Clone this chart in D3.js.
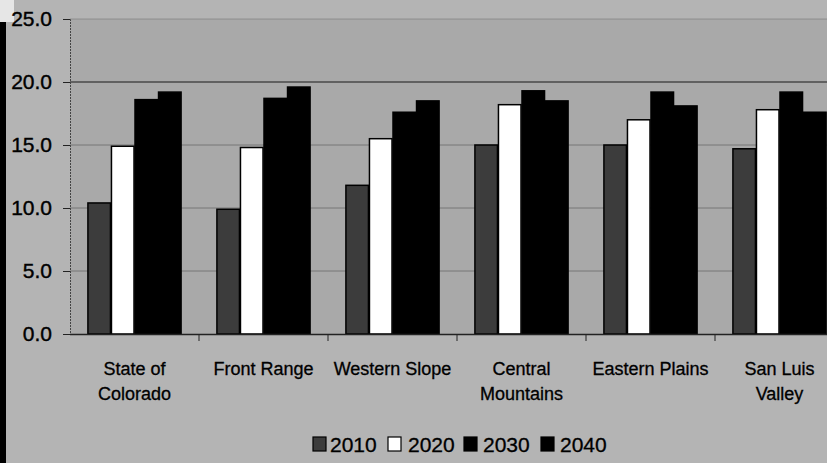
<!DOCTYPE html>
<html><head><meta charset="utf-8">
<script src="https://cdn.jsdelivr.net/npm/d3@7"></script>
<style>
html,body{margin:0;padding:0;background:#b2b2b2;}
svg{display:block;}
text{font-family:"Liberation Sans",Arial,sans-serif;fill:#000;}
</style></head>
<body>
<svg id="chart" width="827" height="463"></svg>
<script>
const categories = [["State of","Colorado"],["Front Range"],["Western Slope"],["Central","Mountains"],["Eastern Plains"],["San Luis","Valley"]];
const years = ["2010","2020","2030","2040"];
const v2010 = [10.4, 9.9, 11.8, 15.0, 15.0, 14.7];
const v2020 = [14.9, 14.8, 15.5, 18.2, 17.0, 17.8];
const v2030 = [18.6, 18.7, 17.6, 19.3, 19.2, 19.2];
const v2040 = [19.2, 19.6, 18.5, 18.5, 18.1, 17.6];
const yTicks = [0, 5, 10, 15, 20, 25];

const series = [v2010, v2020, v2030, v2040];
const fills = ["#3c3c3c", "#ffffff", "#000000", "#000000"];

const svg = d3.select("#chart");
const W = 827, H = 463;

// backgrounds
svg.append("rect").attr("x",0).attr("y",0).attr("width",W).attr("height",H).attr("fill","#b4b4b4");
svg.append("rect").attr("x",70).attr("y",19).attr("width",W-70).attr("height",315).attr("fill","#a9a9a9");
svg.append("rect").attr("x",0).attr("y",0).attr("width",14).attr("height",22).attr("fill","#e6e6e6");
svg.append("rect").attr("x",0).attr("y",22).attr("width",6).attr("height",H-22).attr("fill","#000");

const catIdx = categories.map((d,i)=>i);
const x = d3.scaleBand().domain(catIdx).range([70, 844]).paddingInner(0.27).paddingOuter(0.135);
const xs = d3.scaleBand().domain(years).range([0, x.bandwidth()]).padding(0);
const y = d3.scaleLinear().domain([0, 25]).range([334, 19]);

// gridlines
svg.append("g").selectAll("line").data(yTicks.filter(t=>t>0)).join("line")
  .attr("x1",70).attr("x2",W).attr("y1",d=>y(d)).attr("y2",d=>y(d))
  .attr("stroke",d=>d===20?"#2a2a2a":"#666").attr("stroke-width",d=>d===20?1.5:1).attr("opacity",d=>d===25?0.45:0.75);

// y axis
const yAxis = d3.axisLeft(y).tickValues(yTicks).tickFormat(d3.format(".1f")).tickSize(7).tickPadding(11);
const ya = svg.append("g").attr("transform","translate(70,0)").call(yAxis);
ya.select(".domain").attr("stroke","#444").attr("stroke-dasharray","2,1");
ya.selectAll(".tick line").attr("stroke","#222");
ya.selectAll(".tick text").attr("font-size","21px").attr("fill","#000").attr("stroke","#000").attr("stroke-width",0.4)
  .style("font-family","'Liberation Sans',Arial,sans-serif");

// bars
const groups = svg.append("g").selectAll("g").data(catIdx).join("g")
  .attr("transform", i => `translate(${x(i)},0)`);
groups.selectAll("rect").data(i => years.map((yr,k)=>({yr, k, v: series[k][i]}))).join("rect")
  .attr("x", d => xs(d.yr) + 0.5)
  .attr("width", xs.bandwidth() - 1)
  .attr("y", d => y(d.v))
  .attr("height", d => y(0) - y(d.v))
  .attr("fill", d => fills[d.k])
  .attr("stroke", "#000")
  .attr("stroke-width", 1.5);

// x baseline and boundary ticks
svg.append("line").attr("x1",70).attr("x2",W).attr("y1",334.5).attr("y2",334.5).attr("stroke","#222").attr("stroke-width",1.5);
svg.append("g").selectAll("line").data(catIdx.slice(1)).join("line")
  .attr("x1",i=>x(i)-x.step()*x.paddingInner()/2).attr("x2",i=>x(i)-x.step()*x.paddingInner()/2)
  .attr("y1",334).attr("y2",341).attr("stroke","#222");

// category labels
const labels = svg.append("g").selectAll("text").data(catIdx).join("text")
  .attr("x", i => x(i) + x.bandwidth()/2)
  .attr("y", 375)
  .attr("text-anchor","middle")
  .attr("font-size","18px")
  .attr("stroke","#000").attr("stroke-width",0.3);
labels.selectAll("tspan").data(i => categories[i]).join("tspan")
  .attr("x", function(){ return d3.select(this.parentNode).attr("x"); })
  .attr("dy", (d,j) => j===0 ? 0 : 25)
  .text(d => d);

// legend
const legX = [313, 388, 464, 541];
const leg = svg.append("g").selectAll("g").data(years).join("g")
  .attr("transform", (d,k) => `translate(${legX[k]},437)`);
leg.append("rect").attr("x",0).attr("y",0).attr("width",13).attr("height",14)
  .attr("fill",(d,k)=>fills[k]).attr("stroke","#000").attr("stroke-width",1.2);
leg.append("text").attr("x",(d,k)=>k===0?17:(k===1?20:19)).attr("y",15).attr("font-size","21px")
  .attr("stroke","#000").attr("stroke-width",0.3).text(d=>d);
</script>
</body></html>
